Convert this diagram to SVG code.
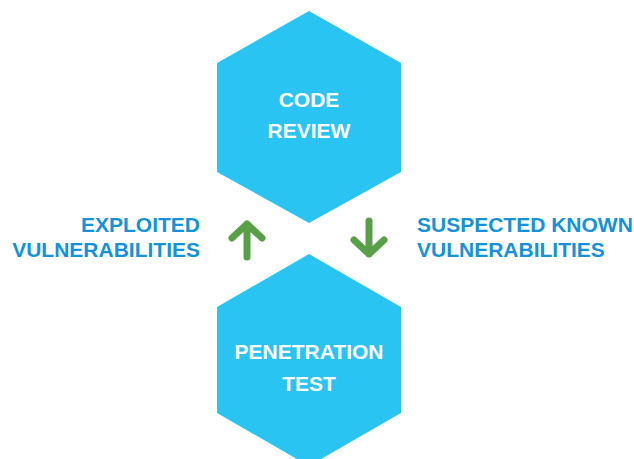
<svg xmlns="http://www.w3.org/2000/svg" width="634" height="459" viewBox="0 0 634 459">
<style>
.hex{fill:#29C4F2;}
.ht{font-family:"Liberation Sans",Arial,sans-serif;font-weight:bold;font-size:21px;fill:#fff;text-anchor:middle;}
.lt{font-family:"Liberation Sans",Arial,sans-serif;font-weight:bold;font-size:21px;fill:#1592D9;}
.arr{fill:none;stroke:#57A047;stroke-width:7;stroke-linecap:round;stroke-linejoin:round;}
</style>
<rect width="634" height="459" fill="#fff"/>
<g id="code-review">
<polygon class="hex" points="309,11 401,63 401,172 309,223 217,172 217,63"/>
<text class="ht" x="309" y="107">CODE</text>
<text class="ht" x="309" y="138">REVIEW</text>
</g>
<g id="penetration-test">
<polygon class="hex" points="309,254 401,307 401,413 309,466 217,413 217,307"/>
<text class="ht" x="309" y="359">PENETRATION</text>
<text class="ht" x="309" y="391">TEST</text>
</g>
<g id="connectors">
<path class="arr" d="M247,224 V257 M232,238 L247,224 L262,238"/>
<path class="arr" d="M369,221 V254 M354,240 L369,254 L384,240"/>
</g>
<g id="label-exploited">
<text class="lt" x="200" y="232" text-anchor="end">EXPLOITED</text>
<text class="lt" x="200" y="257" text-anchor="end">VULNERABILITIES</text>
</g>
<g id="label-suspected">
<text class="lt" x="417" y="232">SUSPECTED KNOWN</text>
<text class="lt" x="417" y="257">VULNERABILITIES</text>
</g>
</svg>
